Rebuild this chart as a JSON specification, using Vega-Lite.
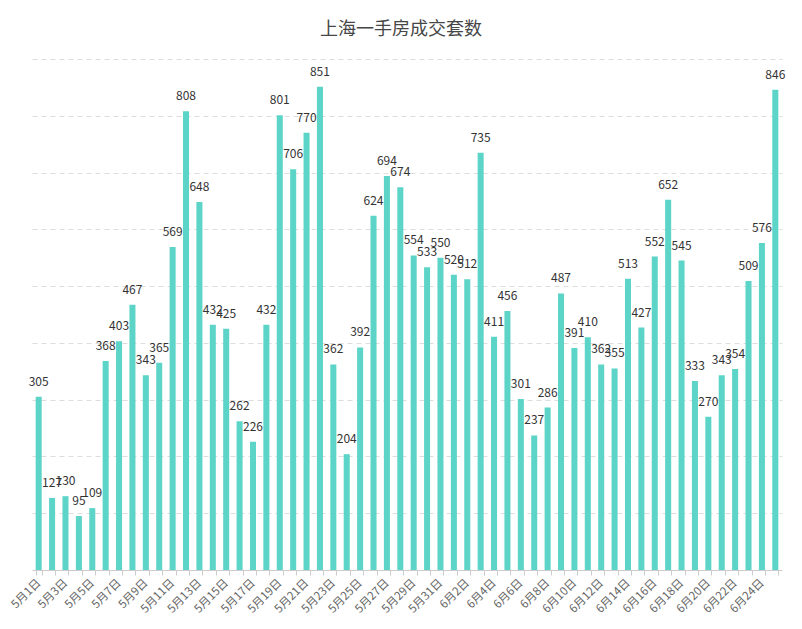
{
  "$schema": "https://vega.github.io/schema/vega-lite/v6.json",
  "width": 750,
  "height": 511,
  "autosize": {"type": "none"},
  "padding": {"left": 32, "top": 59, "right": 20, "bottom": 59},
  "background": "white",
  "config": {"view": {"stroke": null}, "font": "Noto Sans CJK SC"},
  "title": {"text": "上海一手房成交套数", "fontSize": 18, "fontWeight": "normal", "color": "#464646", "anchor": "middle", "offset": 20, "dx": -6, "font": "Noto Sans CJK SC"},
  "data": {"values": [
    {"date": "5月1日", "v": 305}, {"date": "5月2日", "v": 127}, {"date": "5月3日", "v": 130}, {"date": "5月4日", "v": 95},
    {"date": "5月5日", "v": 109}, {"date": "5月6日", "v": 368}, {"date": "5月7日", "v": 403}, {"date": "5月8日", "v": 467},
    {"date": "5月9日", "v": 343}, {"date": "5月10日", "v": 365}, {"date": "5月11日", "v": 569}, {"date": "5月12日", "v": 808},
    {"date": "5月13日", "v": 648}, {"date": "5月14日", "v": 432}, {"date": "5月15日", "v": 425}, {"date": "5月16日", "v": 262},
    {"date": "5月17日", "v": 226}, {"date": "5月18日", "v": 432}, {"date": "5月19日", "v": 801}, {"date": "5月20日", "v": 706},
    {"date": "5月21日", "v": 770}, {"date": "5月22日", "v": 851}, {"date": "5月23日", "v": 362}, {"date": "5月24日", "v": 204},
    {"date": "5月25日", "v": 392}, {"date": "5月26日", "v": 624}, {"date": "5月27日", "v": 694}, {"date": "5月28日", "v": 674},
    {"date": "5月29日", "v": 554}, {"date": "5月30日", "v": 533}, {"date": "5月31日", "v": 550}, {"date": "6月1日", "v": 520},
    {"date": "6月2日", "v": 512}, {"date": "6月3日", "v": 735}, {"date": "6月4日", "v": 411}, {"date": "6月5日", "v": 456},
    {"date": "6月6日", "v": 301}, {"date": "6月7日", "v": 237}, {"date": "6月8日", "v": 286}, {"date": "6月9日", "v": 487},
    {"date": "6月10日", "v": 391}, {"date": "6月11日", "v": 410}, {"date": "6月12日", "v": 362}, {"date": "6月13日", "v": 355},
    {"date": "6月14日", "v": 513}, {"date": "6月15日", "v": 427}, {"date": "6月16日", "v": 552}, {"date": "6月17日", "v": 652},
    {"date": "6月18日", "v": 545}, {"date": "6月19日", "v": 333}, {"date": "6月20日", "v": 270}, {"date": "6月21日", "v": 343},
    {"date": "6月22日", "v": 354}, {"date": "6月23日", "v": 509}, {"date": "6月24日", "v": 576}, {"date": "6月25日", "v": 846}
  ]},
  "encoding": {
    "x": {"field": "date", "type": "nominal", "sort": null,
      "scale": {"paddingInner": 0.55, "paddingOuter": 0.275},
      "axis": {"title": null, "labelAngle": -45, "labelAlign": "right", "labelBaseline": "middle", "labelFontSize": 11.5, "labelColor": "#666666", "labelPadding": 6,
        "domainColor": "#cccccc", "tickColor": "#cccccc", "tickSize": 5, "labelOverlap": false, "tickBand": "extent",
        "labelExpr": "test(regexp('^5月[0-9]*[13579]日$|^6月[0-9]*[02468]日$'), datum.label) ? datum.label : ''"}},
    "y": {"field": "v", "type": "quantitative", "scale": {"domain": [0, 900]},
      "axis": {"title": null, "labels": false, "ticks": false, "domain": false, "values": [100,200,300,400,500,600,700,800,900], "gridColor": "#dddddd", "gridDash": [5,4]}}
  },
  "layer": [
    {"mark": {"type": "bar", "color": "#5cd4c7"}},
    {"mark": {"type": "text", "baseline": "bottom", "dy": -8, "fontSize": 12, "color": "#333333"}, "encoding": {"text": {"field": "v", "type": "quantitative"}}}
  ]
}
